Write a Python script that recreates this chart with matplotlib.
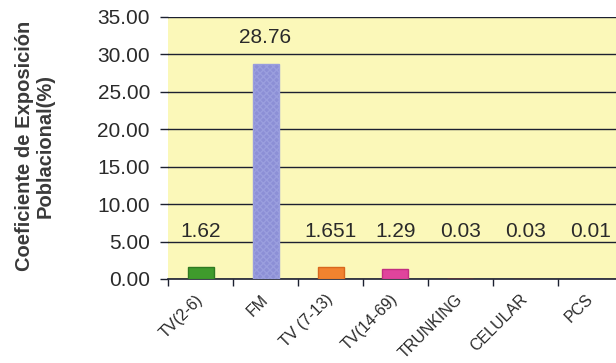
import matplotlib
matplotlib.use("Agg")
import matplotlib.pyplot as plt
import numpy as np
from matplotlib.ticker import FixedLocator, FormatStrFormatter
from matplotlib.transforms import ScaledTranslation

plt.rcParams['font.family'] = ['Liberation Sans', 'DejaVu Sans']

categories = ["TV(2-6)", "FM", "TV (7-13)", "TV(14-69)", "TRUNKING", "CELULAR", "PCS"]
values = [1.62, 28.76, 1.651, 1.29, 0.03, 0.03, 0.01]
value_labels = ["1.62", "28.76", "1.651", "1.29", "0.03", "0.03", "0.01"]
bar_colors = ["#3f9b2c", "#8c8fd6", "#f2832f", "#e0449c", "#e33434", "#8c4a24", "#3a3f9a"]
edge_colors = ["#2f7a22", "#7c80cc", "#d8681e", "#c22f80", "#c42020", "#6c3418", "#2a2f80"]
y_ticks = [0, 5, 10, 15, 20, 25, 30, 35]

fig = plt.figure(figsize=(6.16, 3.63), dpi=100)
fig.patch.set_facecolor("white")
ax = fig.add_axes([168 / 616, 84 / 363, 455 / 616, 262 / 363])
ax.set_facecolor("#fbf8b9")

x = np.arange(len(categories))
bars = ax.bar(x, values, width=0.4, color=bar_colors, edgecolor=edge_colors,
              linewidth=1.0, zorder=3)
bars[1].set_hatch("xxxxx")
bars[1].set_edgecolor("#9a9ede")

for xi, v, lab in zip(x, values, value_labels):
    ax.text(xi, max(v, 2.8) + 3.5, lab, ha="center", va="center",
            fontsize=15, color="#2a2a2a", zorder=4)

ax.set_xlim(-0.5, len(categories) - 0.5)
ax.set_ylim(0, 35)
ax.yaxis.set_major_locator(FixedLocator(y_ticks))
ax.yaxis.set_major_formatter(FormatStrFormatter("%.2f"))
ax.grid(axis="y", color="#1c2030", linewidth=1.0, zorder=1)
ax.set_axisbelow(True)

ax.set_xticks(x)
ax.set_xticklabels(categories, rotation=45, ha="right", va="center",
                   rotation_mode="anchor", fontsize=11.5, color="#2a2a2a")
shift = ScaledTranslation(-4 / 100, 0, fig.dpi_scale_trans)
for lbl in ax.get_xticklabels():
    lbl.set_transform(lbl.get_transform() + shift)
ax.set_xticks(np.arange(len(categories)) - 0.5, minor=True)
ax.tick_params(axis="x", which="major", length=0, pad=13)
ax.tick_params(axis="x", which="minor", length=5, width=1.0, color="#1c2030",
               direction="out")
ax.tick_params(axis="y", length=6, width=1.0, color="#1c2030", pad=7,
               labelsize=15, labelcolor="#2a2a2a")

for side in ("top", "right", "left"):
    ax.spines[side].set_visible(False)
ax.spines["bottom"].set_color("#1c2030")
ax.spines["bottom"].set_linewidth(1.2)

fig.text(35 / 616, 1 - 146 / 363, "Coeficiente de Exposición\nPoblacional(%)",
         rotation=90, ha="center", va="center", multialignment="center",
         fontsize=14.5, fontweight="bold", color="#3a3a3a", linespacing=1.1)

fig.savefig("out.png", dpi=100, facecolor="white")
